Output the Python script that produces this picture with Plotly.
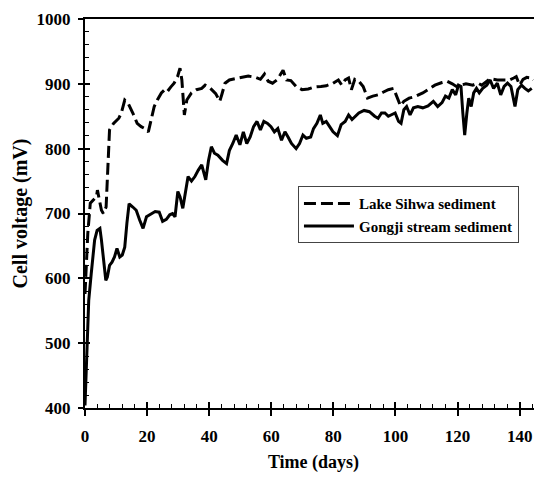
import plotly.graph_objects as go

# Lake Sihwa sediment (dashed)
sihwa_days = [0, 0.9, 1.7, 2.6, 3.7, 4.0, 5.3, 5.9, 6.8, 7.9, 9.2, 10.9, 11.7, 12.8, 13.9,
              15.4, 16.8, 18.1, 19.3, 20.4, 21.5, 22.3, 23.3, 24.6, 25.7, 26.5, 27.6, 28.7,
              29.8, 30.6, 31.2, 32.0, 32.8, 34.3, 35.9, 37.6, 38.7, 40.4, 42.1, 43.4, 44.1,
              45.1, 46.5, 48.7, 50.4, 52.6, 54.9, 56.5, 57.8, 59.0, 60.4, 61.8, 62.9, 63.8,
              64.9, 66.3, 68.0, 69.9, 71.9, 73.8, 76.0, 77.7, 79.9, 81.6, 82.7, 83.8, 84.9,
              85.8, 86.9, 88.2, 89.6, 91.0, 92.7, 94.4, 96.0, 97.7, 99.4, 100.3, 101.6,
              102.7, 104.4, 106.1, 108.8, 111.1, 112.7, 115.0, 116.6, 118.3, 119.6, 121.1,
              122.7, 124.9, 126.6, 127.8, 129.4, 130.5, 132.8, 135.0, 136.7, 138.1, 138.9,
              140.0, 141.1, 142.3, 144.0, 144.4]
sihwa_mv = [576, 669, 716, 720, 726, 736, 705, 700, 710, 829, 839, 847, 855, 875, 870,
            855, 839, 834, 831, 826, 849, 865, 875, 886, 891, 888, 895, 901,
            911, 924, 906, 852, 875, 886, 891, 893, 898, 893, 885, 873, 884,
            901, 906, 908, 910, 912, 910, 907, 915, 904, 901, 906, 914, 921,
            906, 905, 896, 891, 892, 895, 896, 897, 901, 906, 898, 906, 909,
            891, 907, 904, 896, 878, 881, 883, 887, 891, 893, 883, 866,
            873, 878, 880, 886, 893, 898, 902, 904, 900, 896, 898,
            900, 898, 901, 898, 904, 908, 906, 906, 906, 909, 911,
            898, 907, 910, 909, 906]

# Gongji stream sediment (solid)
gongji_days = [0, 0.6, 1.2, 2.0, 2.6, 3.1, 3.9, 4.8, 5.3, 5.9, 6.7, 7.2, 7.9, 8.7, 9.5,
               10.3, 11.2, 12.0, 12.8, 13.5, 14.2, 15.4, 16.5, 17.6, 18.7, 19.8, 21.5,
               22.6, 23.9, 25.0, 26.2, 27.3, 28.2, 29.0, 29.9, 30.6, 31.5, 32.4, 33.2,
               34.3, 35.4, 36.5, 37.6, 38.9, 39.8, 40.7, 41.7, 42.8, 44.3, 45.6, 46.5,
               47.6, 48.7, 49.9, 51.0, 52.1, 53.2, 54.3, 55.4, 56.5, 57.6, 58.8, 59.9,
               61.0, 62.1, 63.3, 64.4, 65.4, 66.5, 68.0, 69.1, 70.2, 71.3, 72.7, 73.6,
               74.7, 75.8, 76.6, 77.7, 78.8, 79.9, 81.3, 82.5, 83.8, 84.9, 86.0, 87.1,
               88.2, 89.9, 91.6, 93.3, 94.4, 95.5, 96.6, 97.7, 98.8, 99.9, 101.0, 101.8,
               102.7, 103.6, 104.7, 105.8, 107.2, 108.8, 110.5, 112.2, 113.6, 115.0,
               116.1, 117.2, 118.3, 119.4, 120.3, 121.1, 121.7, 122.3, 123.0, 123.6,
               124.4, 125.2, 126.1, 127.0, 128.1, 129.4, 130.5, 131.6, 132.8, 133.9,
               135.0, 136.1, 137.2, 138.5, 139.4, 140.6, 141.7, 142.8, 143.9]
gongji_mv = [404, 499, 566, 607, 638, 659, 674, 677, 659, 628, 597, 602, 620, 625, 633,
             646, 633, 636, 648, 685, 715, 710, 705, 690, 677, 695, 700,
             703, 702, 688, 691, 698, 700, 695, 734, 726, 708, 734, 757,
             750, 757, 767, 775, 752, 782, 803, 793, 790, 782, 777, 797,
             808, 821, 806, 826, 808, 818, 834, 842, 829, 842, 839, 834,
             826, 831, 813, 826, 818, 808, 800, 808, 821, 816, 818, 831,
             839, 852, 839, 842, 834, 826, 820, 837, 842, 852, 845, 850,
             855, 859, 857, 850, 847, 855, 855, 850, 852, 855, 842, 839,
             860, 865, 852, 863, 865, 863, 866, 873, 865, 871,
             881, 878, 891, 883, 898, 896, 855, 821, 855, 878,
             865, 886, 893, 886, 893, 898, 906, 893, 901, 883,
             896, 901, 896, 865, 891, 898, 893, 889, 893]

x_ticks = [0, 20, 40, 60, 80, 100, 120, 140]
y_ticks = [400, 500, 600, 700, 800, 900, 1000]
x_range = [0, 147.2]
y_range = [400, 1000]

FONT = "Liberation Serif"

fig = go.Figure()
fig.add_trace(go.Scatter(
    x=sihwa_days, y=sihwa_mv, mode="lines", name="<b>Lake Sihwa sediment</b>",
    line=dict(color="black", width=3, dash="12px,5px"),
    xaxis="x", yaxis="y",
))
fig.add_trace(go.Scatter(
    x=gongji_days, y=gongji_mv, mode="lines", name="<b>Gongji stream sediment</b>",
    line=dict(color="black", width=3),
    xaxis="x2", yaxis="y2",
))

tickfont = dict(family=FONT, size=17, color="black")

fig.update_layout(
    width=542, height=479,
    margin=dict(l=77, r=8, t=11, b=79, autoexpand=False),
    paper_bgcolor="white", plot_bgcolor="white",
    font=dict(family=FONT, color="black"),
    showlegend=True,
    legend=dict(
        x=0.466, y=0.57, xanchor="left", yanchor="top",
        bordercolor="#444", borderwidth=1, bgcolor="white",
        font=dict(family=FONT, size=15, color="black"),
        itemwidth=50, tracegroupgap=4,
    ),
    xaxis=dict(
        range=x_range, tickvals=x_ticks, ticks="outside", ticklen=6, tickwidth=1.5,
        tickcolor="black", showline=True, linewidth=2, linecolor="black", mirror=True,
        showgrid=False, zeroline=False, tickfont=tickfont, automargin=False,
        ticktext=[f"<b>{v}</b>" for v in x_ticks], ticklabelstandoff=6,
        title=dict(text="<b>Time (days)</b>", font=dict(family=FONT, size=18, color="black"),
                   standoff=10),
    ),
    xaxis2=dict(
        range=x_range, overlaying="x", anchor="y2", side="bottom",
        tickvals=x_ticks, ticks="inside", ticklen=6, tickwidth=1.5, tickcolor="black",
        minor=dict(ticks="inside", ticklen=4, tickwidth=1, tickcolor="black", dtick=4, tick0=0),
        showticklabels=False, showline=False, showgrid=False, zeroline=False, automargin=False,
    ),
    yaxis=dict(
        range=y_range, tickvals=y_ticks, ticks="outside", ticklen=5, tickwidth=1.5,
        tickcolor="black", showline=True, linewidth=2, linecolor="black", mirror=False,
        showgrid=False, zeroline=False, tickfont=tickfont, automargin=False,
        ticktext=[f"<b>{v}</b>" for v in y_ticks], ticklabelstandoff=4,
        title=dict(text="<b>Cell voltage (mV)</b>", font=dict(family=FONT, size=20, color="black"),
                   standoff=4),
    ),
    yaxis2=dict(
        range=y_range, overlaying="y", anchor="x2", side="left",
        tickvals=y_ticks, ticks="inside", ticklen=5, tickwidth=1.5, tickcolor="black",
        minor=dict(ticks="inside", ticklen=4, tickwidth=1, tickcolor="black", dtick=20, tick0=400),
        showticklabels=False, showline=False, showgrid=False, zeroline=False, automargin=False,
    ),
)

fig.write_html("out.html")
